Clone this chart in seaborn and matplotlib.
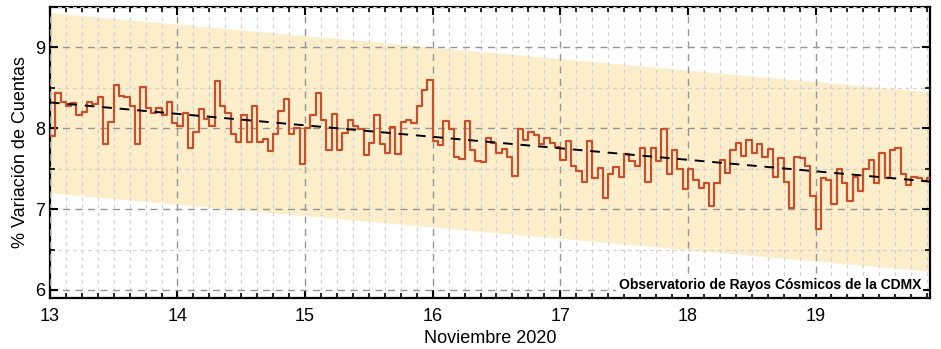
import numpy as np
import pandas as pd
import matplotlib
matplotlib.use("Agg")
import matplotlib.pyplot as plt
from matplotlib.ticker import MultipleLocator
import seaborn as sns

# ---- data ----
start_day = 13
hours_per_step = 1 / 24
values = [
    # Nov 13
    7.905, 8.43, 8.33, 8.28, 8.31, 8.165, 8.205, 8.33, 8.30, 8.39, 7.81, 8.08,
    8.54, 8.40, 8.39, 8.28, 7.81, 8.51, 8.25, 8.19, 8.25, 8.165, 8.32, 8.06,
    # Nov 14
    8.03, 8.185, 7.76, 7.95, 8.24, 8.12, 8.03, 8.58, 8.28, 8.185, 7.93, 7.83,
    8.16, 7.83, 8.28, 7.83, 7.87, 7.72, 7.93, 8.21, 8.36, 7.93, 8.00, 7.56,
    # Nov 15
    8.00, 8.16, 8.43, 8.10, 7.73, 8.18, 7.73, 7.94, 8.10, 8.03, 7.99, 7.67,
    7.82, 8.16, 7.81, 7.70, 8.02, 7.68, 8.08, 8.10, 8.07, 8.28, 8.47, 8.60,
    # Nov 16
    7.84, 7.79, 8.09, 7.99, 7.65, 7.62, 8.09, 7.73, 7.59, 7.58, 7.885, 7.82,
    7.70, 7.74, 7.64, 7.41, 7.99, 7.86, 7.95, 7.92, 7.81, 7.88, 7.82, 7.77,
    # Nov 17
    7.61, 7.84, 7.53, 7.47, 7.33, 7.84, 7.38, 7.51, 7.14, 7.43, 7.52, 7.40,
    7.68, 7.60, 7.53, 7.75, 7.34, 7.75, 7.59, 7.99, 7.44, 7.73, 7.49, 7.25,
    # Nov 18
    7.49, 7.36, 7.26, 7.32, 7.04, 7.32, 7.61, 7.45, 7.73, 7.82, 7.66, 7.86,
    7.70, 7.81, 7.64, 7.74, 7.40, 7.63, 7.33, 7.01, 7.65, 7.63, 7.53, 7.16,
    # Nov 19
    6.75, 7.38, 7.36, 7.06, 7.49, 7.32, 7.10, 7.40, 7.23, 7.49, 7.61, 7.32,
    7.70, 7.38, 7.73, 7.75, 7.44, 7.30, 7.40, 7.38, 7.35, 7.38,
]
trend_x = [13.0, 19.9]
trend_y = [8.32, 7.34]
band_upper = [9.43, 8.45]
band_lower = [7.20, 6.23]
x_ticks = [13, 14, 15, 16, 17, 18, 19]
y_ticks = [6, 7, 8, 9]
xlabel = "Noviembre 2020"
ylabel = "% Variación de Cuentas"
credit = "Observatorio de Rayos Cósmicos de la CDMX"

# ---- build frames ----
x_vals = start_day + np.arange(len(values) + 1) * hours_per_step
df = pd.DataFrame({"dia": x_vals, "var": values + [values[-1]]})
df_trend = pd.DataFrame({"dia": trend_x, "var": trend_y})

sns.set_theme(style="white")
plt.rcParams["font.family"] = ["Liberation Sans", "DejaVu Sans"]
plt.rcParams["text.color"] = "black"
plt.rcParams["axes.labelcolor"] = "black"
plt.rcParams["xtick.color"] = "black"
plt.rcParams["ytick.color"] = "black"

fig = plt.figure(figsize=(9.41, 3.49), dpi=100)
ax = fig.add_axes([0.053, 0.146, 0.935, 0.834])

ax.fill_between(trend_x, band_lower, band_upper, color="#FDEECB", lw=0, zorder=1)

sns.lineplot(data=df, x="dia", y="var", ax=ax, estimator=None,
             drawstyle="steps-post", color="#C4512B", lw=1.6, zorder=4)
sns.lineplot(data=df_trend, x="dia", y="var", ax=ax, estimator=None,
             color="black", lw=1.4, zorder=5)
ax.lines[-1].set_dashes((5, 4))

ax.set_xlim(13, 19.895)
ax.set_ylim(5.9, 9.5)
ax.set_xticks(x_ticks)
ax.set_yticks(y_ticks)
ax.xaxis.set_minor_locator(MultipleLocator(1 / 8))
ax.yaxis.set_minor_locator(MultipleLocator(0.5))

ax.grid(which="major", color="#969696", lw=1.0, ls=(0, (5, 4)), zorder=2)
ax.grid(which="minor", color="#d2d2d2", lw=0.9, ls=(0, (3, 3)), zorder=2)
ax.set_axisbelow(False)
for l in ax.get_xgridlines() + ax.get_ygridlines():
    l.set_zorder(2)

ax.tick_params(which="both", direction="in", top=True, right=True,
               bottom=True, left=True, colors="black", labelcolor="black",
               labelsize=13)
ax.tick_params(which="major", length=6, width=1.5)
ax.tick_params(which="minor", length=3.5, width=1.2)
ax.tick_params(axis="x", pad=7)

for s in ax.spines.values():
    s.set_color("black")
    s.set_linewidth(1.6)
    s.set_visible(True)

ax.set_xlabel(xlabel, fontsize=13, labelpad=4, color="black")
ax.set_ylabel(ylabel, fontsize=13, labelpad=4, color="black")

ax.text(0.990, 0.045, credit, transform=ax.transAxes, ha="right", va="center",
        fontsize=10, fontweight="bold", color="black", zorder=6,
        bbox=dict(facecolor="white", edgecolor="none", pad=1.5))

fig.savefig("out.png", dpi=100)
